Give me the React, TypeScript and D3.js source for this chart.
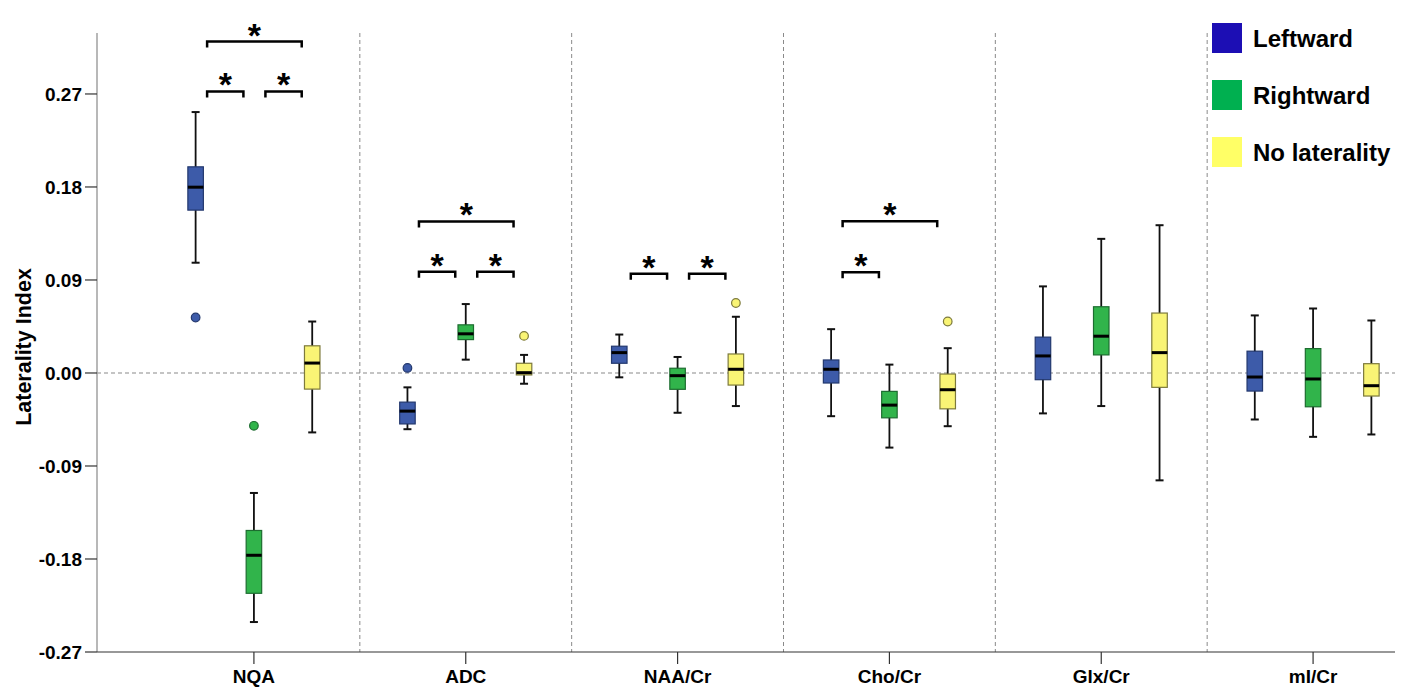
import * as d3 from "d3";

// categories and groups
const categories = ["NQA", "ADC", "NAA/Cr", "Cho/Cr", "Glx/Cr", "mI/Cr"];
const groups = ["Leftward", "Rightward", "No laterality"];
const yTicks = [-0.27, -0.18, -0.09, 0, 0.09, 0.18, 0.27];

// [whisker low, q1, median, q3, whisker high] per category
const leftward = [
  [0.1067, 0.1576, 0.1798, 0.1995, 0.2525],
  [-0.0544, -0.0493, -0.0369, -0.0282, -0.0139],
  [-0.0042, 0.0094, 0.0197, 0.0259, 0.0372],
  [-0.0418, -0.0097, 0.0036, 0.0126, 0.0424],
  [-0.0391, -0.0065, 0.0165, 0.0347, 0.0838],
  [-0.045, -0.0175, -0.0039, 0.0211, 0.0557],
];
const rightward = [
  [-0.241, -0.2132, -0.1764, -0.1524, -0.1161],
  [0.0129, 0.0323, 0.0379, 0.0466, 0.0667],
  [-0.0385, -0.0158, -0.0026, 0.0046, 0.0155],
  [-0.0722, -0.0434, -0.0311, -0.0178, 0.0081],
  [-0.032, 0.0175, 0.0356, 0.0641, 0.1298],
  [-0.0618, -0.0327, -0.0058, 0.0236, 0.0624],
];
const noLaterality = [
  [-0.0575, -0.0156, 0.0096, 0.0263, 0.0498],
  [-0.0104, -0.0019, 0.0003, 0.0094, 0.0175],
  [-0.032, -0.0117, 0.0036, 0.0184, 0.0544],
  [-0.0515, -0.0347, -0.0162, -0.001, 0.024],
  [-0.1039, -0.0139, 0.0197, 0.058, 0.143],
  [-0.0595, -0.0223, -0.0123, 0.009, 0.0508],
];

// outliers: [category, group, value]
const outliers: [number, number, number][] = [
  [0, 0, 0.0537],
  [0, 1, -0.0511],
  [1, 0, 0.0049],
  [1, 2, 0.0359],
  [2, 2, 0.0677],
  [3, 2, 0.0498],
];

// significance brackets: [category, from group, to group, height]
const brackets: [number, number, number, number][] = [
  [0, 0, 1, 0.2724],
  [0, 1, 2, 0.2724],
  [0, 0, 2, 0.3207],
  [1, 0, 1, 0.098],
  [1, 1, 2, 0.098],
  [1, 0, 2, 0.1466],
  [2, 0, 1, 0.0961],
  [2, 1, 2, 0.0961],
  [3, 0, 1, 0.0974],
  [3, 0, 2, 0.1469],
];

const boxFill = ["#3d5ba9", "#31b44b", "#f9f475"];
const boxStroke = ["#23386e", "#1d6d30", "#7d7a3c"];
const legendFill = ["#1c0eb4", "#00b050", "#ffff66"];

const W = 1411;
const H = 692;
const FONT = "Arial, 'Liberation Sans', sans-serif";

export default function App() {
  const stats = [leftward, rightward, noLaterality];
  const axisX = 97;
  const axisRight = 1395;
  const top = 33;
  const bottom = 652;

  const x = d3.scaleBand().domain(categories).range([148, 1419]);
  const bw = x.bandwidth();
  const gx = d3.scalePoint().domain(groups).range([-58.3, 58.3]);
  const y = d3.scaleLinear().domain([-0.27, 0.329]).range([bottom, top]);

  const cx = (ci: number, gi: number) => x(categories[ci])! + bw / 2 + gx(groups[gi])!;
  const boxW = 15.5;
  const capW = 8;

  return (
    <svg
      width={W}
      height={H}
      style={{ position: "absolute", left: 0, top: 0, background: "#fff" }}
      fontFamily={FONT}
    >
      {/* dividers */}
      {categories.slice(1).map((c) => (
        <line
          key={c}
          x1={x(c)}
          x2={x(c)}
          y1={top}
          y2={bottom}
          stroke="#8a8a8a"
          strokeWidth={1}
          strokeDasharray="4,3"
        />
      ))}
      {/* zero line */}
      <line
        x1={axisX}
        x2={axisRight}
        y1={y(0)}
        y2={y(0)}
        stroke="#8a8a8a"
        strokeWidth={1.2}
        strokeDasharray="4,3"
      />

      {/* y axis */}
      <line x1={axisX} x2={axisX} y1={top} y2={bottom} stroke="#a0a0a0" strokeWidth={1.5} />
      {yTicks.map((t) => (
        <g key={t} transform={`translate(0,${y(t)})`}>
          <line x1={axisX - 12} x2={axisX} stroke="#333" strokeWidth={1.2} />
          <text
            x={axisX - 15}
            dy="0.36em"
            textAnchor="end"
            fontSize={19}
            fontWeight="bold"
          >
            {t.toFixed(2)}
          </text>
        </g>
      ))}
      <text
        transform={`translate(31,347) rotate(-90)`}
        textAnchor="middle"
        fontSize={21.5}
        fontWeight="bold"
      >
        Laterality Index
      </text>

      {/* x axis */}
      <line x1={axisX} x2={axisRight} y1={bottom} y2={bottom} stroke="#333" strokeWidth={1.2} />
      {categories.map((c) => (
        <g key={c} transform={`translate(${x(c)! + bw / 2},${bottom})`}>
          <line y1={0} y2={12} stroke="#333" strokeWidth={1.2} />
          <text y={31} textAnchor="middle" fontSize={19} fontWeight="bold">
            {c}
          </text>
        </g>
      ))}

      {/* boxes */}
      {stats.map((series, gi) =>
        series.map((s, ci) => {
          const [lo, q1, med, q3, hi] = s;
          const c = cx(ci, gi);
          return (
            <g key={`${gi}-${ci}`}>
              <line x1={c} x2={c} y1={y(hi)} y2={y(lo)} stroke="#111" strokeWidth={1.8} />
              <line x1={c - capW / 2} x2={c + capW / 2} y1={y(hi)} y2={y(hi)} stroke="#111" strokeWidth={2} />
              <line x1={c - capW / 2} x2={c + capW / 2} y1={y(lo)} y2={y(lo)} stroke="#111" strokeWidth={2} />
              <rect
                x={c - boxW / 2}
                y={y(q3)}
                width={boxW}
                height={y(q1) - y(q3)}
                fill={boxFill[gi]}
                stroke={boxStroke[gi]}
                strokeWidth={1.2}
              />
              <line x1={c - boxW / 2} x2={c + boxW / 2} y1={y(med)} y2={y(med)} stroke="#000" strokeWidth={3} />
            </g>
          );
        })
      )}

      {/* outliers */}
      {outliers.map(([ci, gi, v], i) => (
        <circle
          key={i}
          cx={cx(ci, gi)}
          cy={y(v)}
          r={4.3}
          fill={boxFill[gi]}
          stroke={boxStroke[gi]}
          strokeWidth={1.2}
        />
      ))}

      {/* brackets */}
      {brackets.map(([ci, g0, g1, v], i) => {
        const x0 = cx(ci, g0) + 11.5;
        const x1 = cx(ci, g1) - 10.5;
        const yy = y(v);
        return (
          <g key={i}>
            <path
              d={`M${x0},${yy + 6}V${yy}H${x1}V${yy + 6}`}
              fill="none"
              stroke="#000"
              strokeWidth={2.5}
            />
            <text x={(x0 + x1) / 2} y={yy + 5} textAnchor="middle" fontSize={34} fontWeight="bold">
              *
            </text>
          </g>
        );
      })}

      {/* legend */}
      {groups.map((g, i) => (
        <g key={g} transform={`translate(1212,${23 + i * 57})`}>
          <rect width={30} height={30} fill={legendFill[i]} />
          <text x={41} y={24} fontSize={24} fontWeight="bold">
            {g}
          </text>
        </g>
      ))}
    </svg>
  );
}
